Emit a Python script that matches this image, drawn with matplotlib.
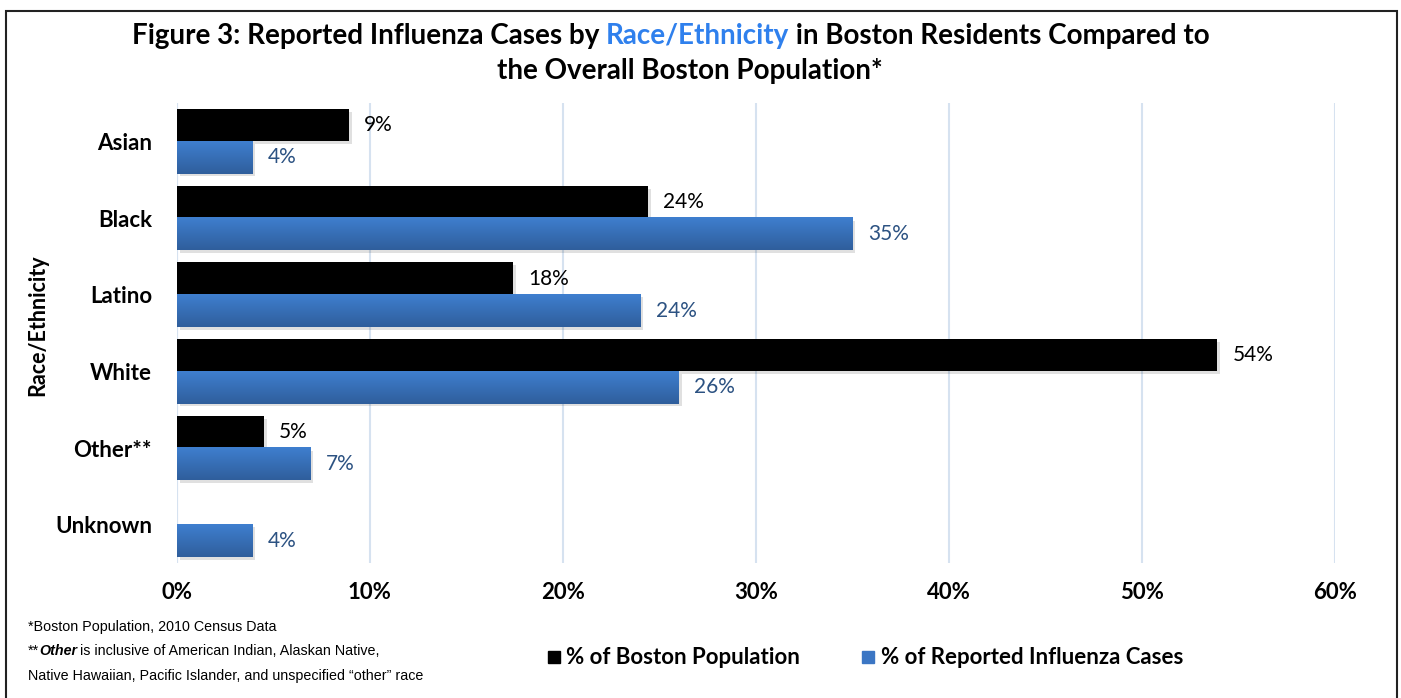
import matplotlib
matplotlib.use("Agg")
import matplotlib.pyplot as plt
import matplotlib.patheffects as pe
from matplotlib.patches import Rectangle
from matplotlib.ticker import PercentFormatter
import numpy as np

categories = ["Asian", "Black", "Latino", "White", "Other**", "Unknown"]
population = [8.9, 24.4, 17.4, 53.9, 4.5, 0.0]
cases = [3.9, 35.0, 24.0, 26.0, 6.9, 3.9]
pop_labels = ["9%", "24%", "18%", "54%", "5%", ""]
case_labels = ["4%", "35%", "24%", "26%", "7%", "4%"]
x_ticks = [0, 10, 20, 30, 40, 50, 60]

FONT = ["Lato", "DejaVu Sans"]
NARROW = ["Liberation Sans Narrow", "Liberation Sans", "DejaVu Sans"]
BLUE = "#3b76c4"
BLUE_DARK = "#2f5e9c"
LABEL_BLUE = "#2c5282"
GRID = "#d6e2f0"

plt.rcParams["font.family"] = FONT

fig = plt.figure(figsize=(14.01, 6.98), dpi=100)
ax = fig.add_axes([0.1263, 0.1934, 0.8266, 0.659])

y = np.arange(len(categories))
h = 0.42
shadow = [pe.SimplePatchShadow(offset=(2, -2), shadow_rgbFace="#000000", alpha=0.12), pe.Normal()]

pop_bars = ax.barh(y - h / 2, population, height=h, color="black", zorder=3,
                   path_effects=shadow)
case_bars = ax.barh(y + h / 2, cases, height=h, color=BLUE, zorder=3,
                    path_effects=shadow)

# vertical gradient on the blue bars
grad = np.linspace(0, 1, 64).reshape(-1, 1)
cmap = matplotlib.colors.LinearSegmentedColormap.from_list("b", ["#3f7fcf", BLUE_DARK])
for p in case_bars.patches:
    x0, y0 = p.get_x(), p.get_y()
    w, hh = p.get_width(), p.get_height()
    ax.imshow(grad, cmap=cmap, aspect="auto", extent=(x0, x0 + w, y0 + hh, y0),
              zorder=4, interpolation="bicubic")

ax.set_xlim(0, 60)
ax.set_ylim(len(categories) - 0.5, -0.5)

for p, lab in zip(pop_bars.patches, pop_labels):
    if lab:
        ax.text(p.get_width() + 0.8, p.get_y() + p.get_height() / 2, lab,
                va="center", ha="left", fontsize=15, color="black", zorder=5)
for p, lab in zip(case_bars.patches, case_labels):
    ax.text(p.get_width() + 0.8, p.get_y() + p.get_height() / 2, lab,
            va="center", ha="left", fontsize=15, color=LABEL_BLUE, zorder=5)

ax.set_xticks(x_ticks)
ax.xaxis.set_major_formatter(PercentFormatter(decimals=0))
ax.set_yticks(y)
ax.set_yticklabels(categories)
ax.tick_params(axis="both", length=0, labelsize=16)
ax.tick_params(axis="x", pad=14)
ax.tick_params(axis="y", pad=18)
for t in ax.get_xticklabels() + ax.get_yticklabels():
    t.set_fontweight("bold")
ax.grid(axis="x", color=GRID, linewidth=1.5, zorder=0)
for s in ax.spines.values():
    s.set_visible(False)
ax.axvline(0, color=GRID, linewidth=1.5, zorder=1)

fig.text(38 / 1401, 1 - 325 / 698, "Race/Ethnicity", rotation=90, ha="center", va="center",
         fontsize=15.5, fontweight="bold")

# title with the blue part
fig.canvas.draw()
r = fig.canvas.get_renderer()
parts = [("Figure 3: Reported Influenza Cases by ", "black"),
         ("Race/Ethnicity", "#2f80ed"),
         (" in Boston Residents Compared to", "black")]
texts = [fig.text(0, 0, s, fontsize=20, fontweight="bold", color=c, va="baseline")
         for s, c in parts]
widths = [t.get_window_extent(r).width for t in texts]
xpix = 671 - sum(widths) / 2
for t, w in zip(texts, widths):
    t.set_position((xpix / 1401, 1 - 44 / 698))
    xpix += w
fig.text(690 / 1401, 1 - 79 / 698, "the Overall Boston Population*", ha="center",
         va="baseline", fontsize=20, fontweight="bold")

# legend
fig.patches.append(Rectangle((548 / 1401, 1 - 663 / 698), 12 / 1401, 12 / 698,
                             transform=fig.transFigure, color="black"))
fig.text(566 / 1401, 1 - 657 / 698, "% of Boston Population", va="center", fontsize=16,
         fontweight="bold")
fig.patches.append(Rectangle((862 / 1401, 1 - 663 / 698), 12 / 1401, 12 / 698,
                             transform=fig.transFigure, color=BLUE))
fig.text(881 / 1401, 1 - 657 / 698, "% of Reported Influenza Cases", va="center", fontsize=16,
         fontweight="bold")

# footnotes
fig.text(28 / 1401, 1 - 627 / 698, "*Boston Population, 2010 Census Data", va="center",
         fontsize=10.3, family=NARROW)
t1 = fig.text(28 / 1401, 1 - 651 / 698, "**", va="center", fontsize=10.3, family=NARROW)
w1 = t1.get_window_extent(r).width
t2 = fig.text((28 + w1) / 1401, 1 - 651 / 698, "Other", va="center", fontsize=10.3,
              family=NARROW, fontweight="bold", style="italic")
w2 = t2.get_window_extent(r).width
fig.text((28 + w1 + w2 + 3) / 1401, 1 - 651 / 698,
         "is inclusive of American Indian, Alaskan Native,", va="center", fontsize=10.3,
         family=NARROW)
fig.text(28 / 1401, 1 - 676 / 698,
         "Native Hawaiian, Pacific Islander, and unspecified \u201cother\u201d race", va="center",
         fontsize=10.3, family=NARROW)

# outer border
fig.patches.append(Rectangle((6 / 1401, -0.01), 1391 / 1401, 1 - 11 / 698 + 0.01,
                             transform=fig.transFigure, fill=False, edgecolor="#222222",
                             linewidth=1.5))

fig.savefig("out.png", dpi=100)
